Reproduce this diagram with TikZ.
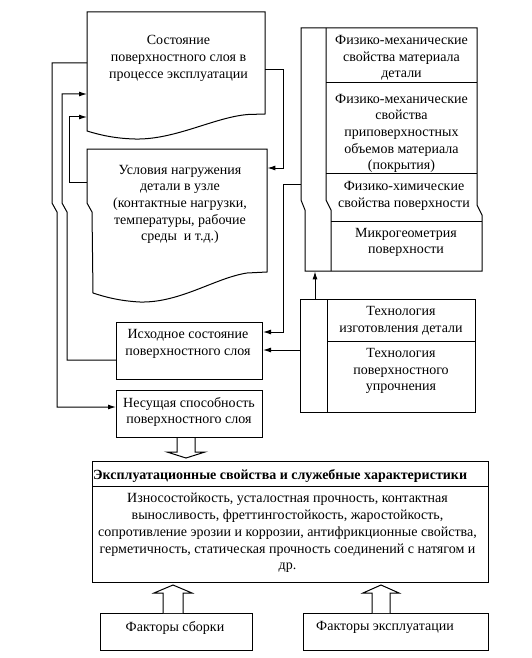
\documentclass[tikz,border=0pt]{standalone}
\usepackage{fontspec}
\setmainfont{Liberation Serif}
\usetikzlibrary{arrows.meta,calc}
\begin{document}
\begin{tikzpicture}[x=1pt,y=-1pt,
  ln/.style={line width=1pt},
  arr/.style={ln,-{Latex[length=8pt,width=5pt]}},
  frame/.style={ln,draw,inner sep=0pt,anchor=north west},
  area/.style={inner sep=0pt,anchor=north west},
  txt/.style={align=center,inner sep=0pt,yshift=-2.5pt,font=\fontsize{14}{16.7}\selectfont},
  hollow/.style={ln,draw,fill=white,line join=miter},
]
\useasboundingbox (0,0) rectangle (532,658);

% document shapes
\node[area,minimum width=178pt,minimum height=119pt] (d1) at (87,12) {};
\draw[ln] (87,131) -- (87,12) -- (265,12) -- (265,114) -- (248,114.5)
  .. controls (215,117) and (175,140) .. (135,139)
  .. controls (115,138.5) and (100,135) .. (87,131) -- cycle;
\node[area,minimum width=180pt,minimum height=144pt] (d2) at (87,149) {};
\draw[ln] (87,149) -- (267,149) -- (267,272) -- (247,273)
  .. controls (215,278) and (180,303) .. (140,302)
  .. controls (120,301) and (105,297) .. (93,293) -- (92,212) -- (87,203) -- cycle;

% right block
\node[area,minimum width=176pt,minimum height=243pt] (rb) at (301,28) {};
\draw[ln] (301,28) -- (301,200) -- (305,210) -- (305,271) -- (482,271) -- (482,215) -- (477,205) -- (477,28) -- cycle;
\draw[ln] (326,28) -- (326,200) -- (331,210) -- (331,271);
\draw[ln] (326,83) -- (477,83);
\draw[ln] (326,173) -- (477,173);
\draw[ln] (331,221) -- (482,221);

% technology block
\node[frame,minimum width=175pt,minimum height=113pt] (tb) at (300,299) {};
\draw[ln] (327,299) -- (327,412);
\draw[ln] (327,341) -- (475,341);

% boxes
\node[frame,minimum width=146pt,minimum height=57pt] (isx) at (116,322) {};
\node[frame,minimum width=146pt,minimum height=47pt] (nes) at (116,390) {};
\node[frame,minimum width=396pt,minimum height=121pt] (ex) at (92,461) {};
\draw[ln] (ex.west |- 0,486) -- (ex.east |- 0,486);
\node[frame,minimum width=152pt,minimum height=37pt] (fs) at (100,613) {};
\node[frame,minimum width=185pt,minimum height=37pt] (fe) at (303,613) {};

% connectors
\draw[arr] (d1.west |- 0,63) -- (52,63) -- (52,203) -- (57,212) -- (57,407) -- (nes.west |- 0,407);
\draw[arr] (isx.west |- 0,360) -- (67,360) -- (67,212) -- (62,203) -- (62,94) -- (d1.west |- 0,94);
\draw[arr] (d2.west |- 0,182) -- (69,182) -- (69,117) -- (d1.west |- 0,117);
\draw[arr] (d1.east |- 0,70) -- (283,70) -- (283,168) -- (d2.east |- 0,168);
\draw[arr] (rb.west |- 0,184) -- (283,184) -- (283,332) -- (isx.east |- 0,332);
\draw[arr] (tb.west |- 0,350) -- (isx.east |- 0,350);
\draw[arr] (tb.north -| 315,0) -- (rb.south -| 315,0);

% hollow arrows
\draw[hollow] (nes.south -| 177,0) -- (177,452) -- (167,452) -- (186,458) -- (205,452) -- (195,452) -- (nes.south -| 195,0);
\draw[hollow] (fs.north -| 163,0) -- (163,593) -- (154,593) -- (173,585) -- (192,593) -- (183,593) -- (fs.north -| 183,0);
\draw[hollow] (fe.north -| 372,0) -- (372,593) -- (363,593) -- (381,585) -- (399,593) -- (390,593) -- (fe.north -| 390,0);

% texts
\node[txt] (t1) at (178.5,56) {Состояние\\поверхностного слоя в\\процессе эксплуатации};
\node[txt] (t2) at (180,202) {Условия нагружения\\детали в узле\\(контактные нагрузки,\\ температуры, рабочие\\среды\ \ и т.д.)};
\node[txt] (t3) at (401.5,55.5) {Физико-механические\\свойства материала\\детали};
\node[txt] (t4) at (401.5,131) {Физико-механические\\свойства\\приповерхностных\\объемов материала\\(покрытия)};
\node[txt] (t5) at (404,193.5) {Физико-химические\\свойства поверхности};
\node[txt] (t6) at (406,240) {Микрогеометрия\\поверхности};
\node[txt] (t7) at (401,318) {Технология\\изготовления детали};
\node[txt] (t8) at (401,368.5) {Технология\\поверхностного\\упрочнения};
\node[txt] (t9) at (188,341.5) {Исходное состояние\\поверхностного слоя};
\node[txt] (t10) at (189,409.5) {Несущая способность\\поверхностного слоя};
\node[txt,font=\bfseries\fontsize{14}{16.7}\selectfont,anchor=west] (t11) at (93,473) {Эксплуатационные свойства и служебные характеристики};
\node[txt] (t12) at (287.5,530.5) {Износостойкость, усталостная прочность, контактная\\выносливость, фреттингостойкость, жаростойкость,\\сопротивление эрозии и коррозии, антифрикционные свойства,\\герметичность, статическая прочность соединений с натягом и\\др.};
\node[txt] (t13) at (175,625) {Факторы сборки};
\node[txt] (t14) at (385,625) {Факторы эксплуатации};
\end{tikzpicture}
\end{document}
